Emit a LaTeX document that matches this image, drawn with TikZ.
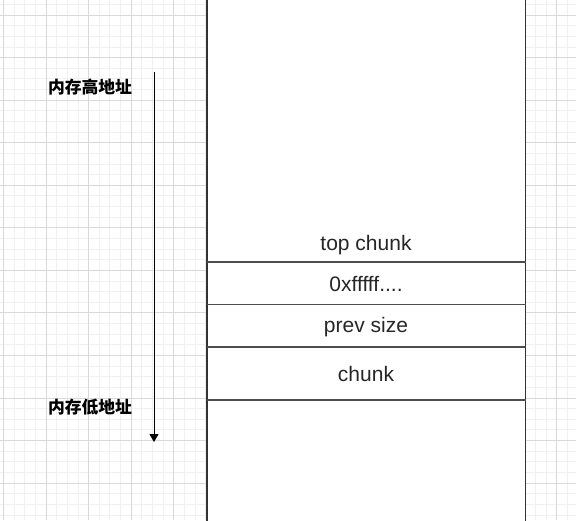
\documentclass[tikz,border=0pt]{standalone}
\usepackage{fontspec}
\setmainfont{Liberation Sans}
\newfontfamily\cjk{Noto Sans CJK SC}
\usetikzlibrary{arrows.meta}
\definecolor{gridmajor}{HTML}{D9D9D9}
\definecolor{gridminor}{HTML}{F0F0F0}
\definecolor{sepline}{HTML}{4D4D4D}
\tikzset{
  cell/.style={font=\fontsize{21}{25}\selectfont, text=black!85, inner sep=0pt, anchor=base},
  cjklabel/.style={font=\cjk\bfseries\fontsize{16.8}{20}\selectfont, inner sep=0pt},
  sep/.style={draw=sepline, line width=1.5pt},
  outer/.style={draw=black!80, line width=1.1pt},
  axis/.style={draw=black, line width=1pt, -{Triangle[length=8pt,width=9pt]}}
}
\begin{document}
\begin{tikzpicture}[x=1pt,y=-1pt]
\useasboundingbox (0,0) rectangle (576,520);
\fill[white] (0,0) rectangle (576,520);
\begin{scope}
\clip (0,0) rectangle (576,520);
% minor grid
\foreach \i in {0,...,55} {
  \draw[gridminor, line width=0.8pt] ({3.45+\i*10.6375},0) -- ({3.45+\i*10.6375},520);
}
\foreach \i in {-2,...,50} {
  \draw[gridminor, line width=0.8pt] (0,{15+\i*10.6375}) -- (576,{15+\i*10.6375});
}
% major grid
\foreach \i in {0,...,14} {
  \draw[gridmajor, line width=0.8pt] ({3.45+\i*42.55},0) -- ({3.45+\i*42.55},520);
}
\foreach \i in {-1,...,12} {
  \draw[gridmajor, line width=0.8pt] (0,{15+\i*42.55}) -- (576,{15+\i*42.55});
}
% memory column
\fill[white] (207,-5) rectangle (525.5,525);
\draw[outer] (207,-5) -- (207,525);
\draw[outer] (525.5,-5) -- (525.5,525);
\end{scope}
\draw[sep] (207,262) -- (525.5,262);
\draw[sep] (207,304.7) -- (525.5,304.7);
\draw[sep] (207,347) -- (525.5,347);
\draw[sep] (207,400) -- (525.5,400);
\node[cell] (top) at (366,250) {top chunk};
\node[cell] (ff) at (366,291) {0xfffff....};
\node[cell] (prev) at (366,332) {prev size};
\node[cell] (chunk) at (366,381) {chunk};
% address arrow
\coordinate (ahigh) at (154,72);
\coordinate (alow) at (154,442);
\draw[axis] (ahigh) -- (alow);
\node[cjklabel] (high) at (90,87) {内存高地址};
\node[cjklabel] (low) at (90,407) {内存低地址};
\end{tikzpicture}
\end{document}
